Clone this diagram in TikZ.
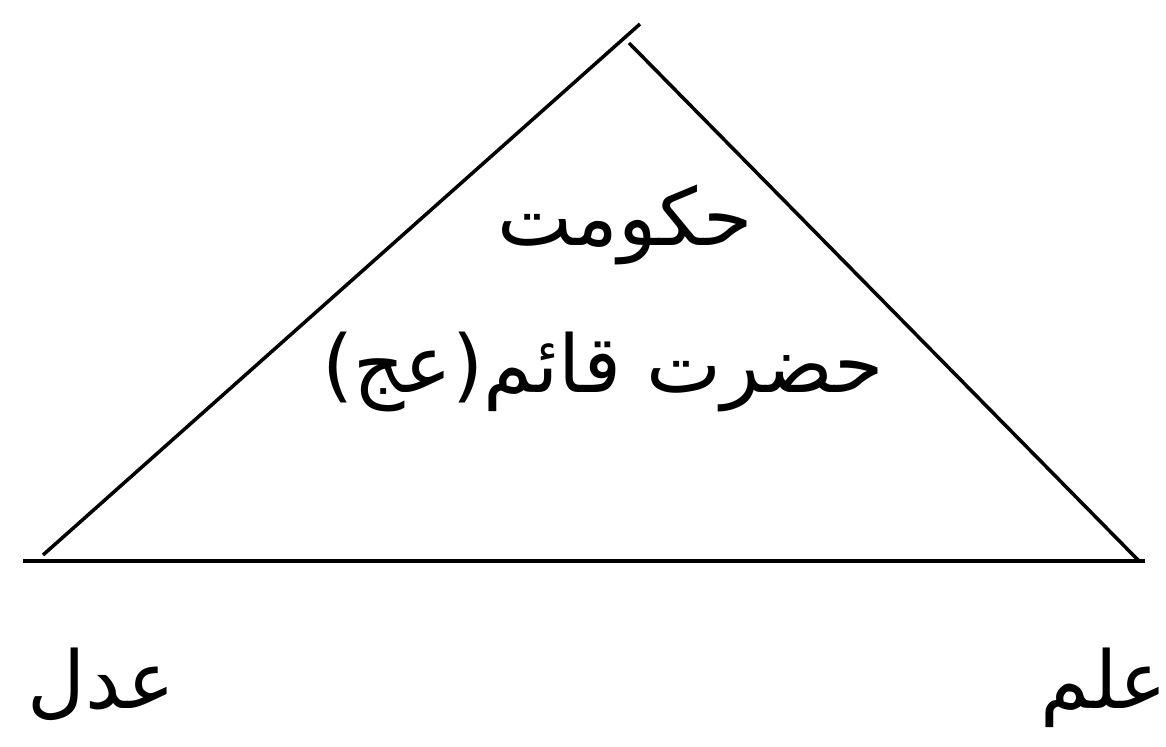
\documentclass[tikz,border=0pt]{standalone}
\usepackage{fontspec}
\newfontfamily\arabicfont[Script=Arabic]{DejaVu Sans}
\TeXXeTstate=1
\begin{document}
\begin{tikzpicture}[x=1bp,y=-1bp,
  edge/.style={line width=3.5bp,black},
  lbl/.style={inner sep=0pt,anchor=base,font=\arabicfont\fontsize{80}{90}\selectfont}]
\useasboundingbox (0,0) rectangle (1166,747);
\coordinate (apexL) at (640,24);
\coordinate (apexR) at (629,43);
\coordinate (botL) at (43,555);
\coordinate (botR) at (1140,562);
\coordinate (baseL) at (23,561);
\coordinate (baseR) at (1145,561);
\draw[edge] (botL) -- (apexL);
\draw[edge] (apexR) -- (botR);
\draw[edge] (baseL) -- (baseR);
\node[lbl] (gov) at (625,245) {\beginR حکومت\endR};
\node[lbl] (qaem) at (603,392) {\beginR حضرت قائم(عج)\endR};
\node[lbl] (adl) at (101,708) {\beginR عدل\endR};
\node[lbl] (elm) at (1104,708) {\beginR علم\endR};
\end{tikzpicture}
\end{document}
